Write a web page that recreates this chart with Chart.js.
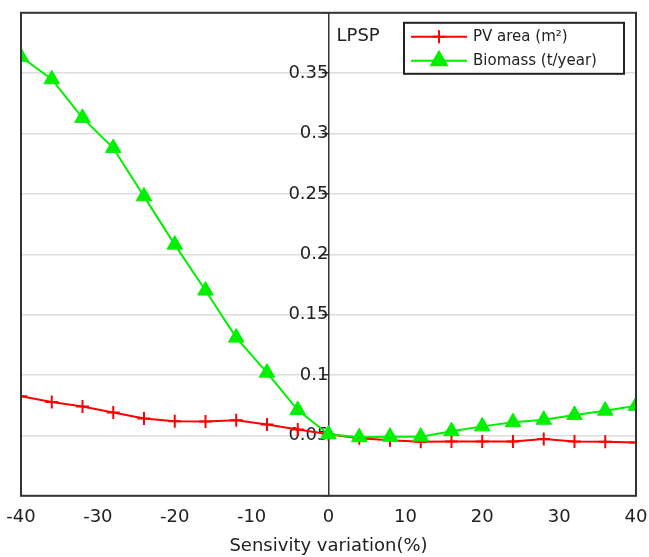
<!DOCTYPE html>
<html>
<head>
<meta charset="utf-8">
<script src="https://cdn.jsdelivr.net/npm/chart.js@4/dist/chart.umd.min.js"></script>
<style>
  html, body { margin: 0; padding: 0; background: #fff; }
  #wrap { width: 649px; height: 557px; }
</style>
</head>
<body>
<div id="wrap"><canvas id="chart" width="649" height="557"></canvas></div>
<script>
// sensitivity steps (%)
const variation = [-40, -36, -32, -28, -24, -20, -16, -12, -8, -4, 0, 4, 8, 12, 16, 20, 24, 28, 32, 36, 40];

// LPSP values
const pvArea = [0.0825, 0.0776, 0.074, 0.069, 0.064, 0.0617, 0.0615, 0.0625, 0.059, 0.055, 0.051,
    0.0477, 0.046, 0.0447, 0.045, 0.045, 0.045, 0.047, 0.045, 0.0447, 0.0442];
const biomass = [0.3635, 0.345, 0.313, 0.288, 0.248, 0.208, 0.170, 0.131, 0.102, 0.071, 0.051,
    0.0485, 0.049, 0.049, 0.0535, 0.0575, 0.061, 0.063, 0.067, 0.0705, 0.0745];

const xTicks = [-40, -30, -20, -10, 0, 10, 20, 30, 40];
const seriesLabels = ['PV area (m\u00b2)', 'Biomass (t/year)'];

const FONT = '"DejaVu Sans", Verdana, sans-serif';
const TEXT = '#222';

// frame around plot + LPSP label + boxed legend
const decorPlugin = {
    id: 'decor',
    afterDraw(chart) {
        const ctx = chart.ctx;
        const a = chart.chartArea;
        ctx.save();
        ctx.strokeStyle = '#333';
        ctx.lineWidth = 2;
        ctx.strokeRect(a.left, a.top, a.right - a.left, a.bottom - a.top);

        ctx.fillStyle = TEXT;
        ctx.font = '18px ' + FONT;
        ctx.textBaseline = 'middle';
        ctx.textAlign = 'left';
        const x0 = chart.scales.x.getPixelForValue(0);
        ctx.fillText('LPSP', x0 + 8, a.top + 24);

        // legend box
        const bw = 220, bh = 51;
        const bx = a.right - 12 - bw, by = a.top + 10;
        ctx.fillStyle = '#fff';
        ctx.fillRect(bx, by, bw, bh);
        ctx.strokeStyle = '#222';
        ctx.lineWidth = 2;
        ctx.strokeRect(bx, by, bw, bh);
        ctx.font = '15px ' + FONT;
        chart.data.datasets.forEach((ds, i) => {
            const cy = by + 14 + i * 24;
            ctx.strokeStyle = ds.borderColor;
            ctx.fillStyle = ds.borderColor;
            ctx.lineWidth = 2;
            ctx.beginPath();
            ctx.moveTo(bx + 7, cy);
            ctx.lineTo(bx + 63, cy);
            ctx.stroke();
            Chart.helpers.drawPoint(ctx, {
                pointStyle: ds.pointStyle,
                radius: ds.pointRadius,
                borderWidth: ds.pointBorderWidth || 2,
                rotation: 0
            }, bx + 35, cy);
            ctx.fillStyle = TEXT;
            ctx.fillText(ds.label, bx + 69, cy);
        });
        ctx.restore();
    }
};

new Chart(document.getElementById('chart'), {
    type: 'line',
    data: {
        labels: variation,
        datasets: [
            {
                label: seriesLabels[0],
                data: variation.map((v, i) => ({ x: v, y: pvArea[i] })),
                borderColor: '#ff0000',
                backgroundColor: '#ff0000',
                borderWidth: 2,
                pointStyle: 'cross',
                pointRadius: 6.5,
                pointBorderWidth: 2,
                pointBorderColor: '#ff0000',
                tension: 0,
                order: 1
            },
            {
                label: seriesLabels[1],
                data: variation.map((v, i) => ({ x: v, y: biomass[i] })),
                borderColor: '#00f000',
                backgroundColor: '#00f000',
                borderWidth: 2,
                pointStyle: 'triangle',
                pointRadius: 9,
                pointBorderWidth: 1,
                pointBorderColor: '#00f000',
                pointBackgroundColor: '#00f000',
                tension: 0,
                order: 0
            }
        ]
    },
    options: {
        responsive: false,
        animation: false,
        layout: { padding: { left: 0, right: 0, top: 7, bottom: 0 } },
        plugins: {
            legend: { display: false },
            tooltip: { enabled: false }
        },
        scales: {
            x: {
                type: 'linear',
                min: -40,
                max: 40,
                afterBuildTicks: (s) => { s.ticks = xTicks.map(v => ({ value: v })); },
                afterFit: (s) => { s.paddingLeft = 21; s.paddingRight = 13; },
                grid: { display: false, drawTicks: false },
                border: { display: false },
                ticks: { color: TEXT, font: { family: FONT, size: 18 }, padding: 11 },
                title: {
                    display: true,
                    text: 'Sensivity variation(%)',
                    color: TEXT,
                    font: { family: FONT, size: 18 },
                    padding: { top: -4, bottom: 0 }
                }
            },
            y: {
                type: 'linear',
                position: { x: 0 },
                min: 0,
                max: 0.4,
                ticks: {
                    stepSize: 0.05,
                    color: TEXT,
                    font: { family: FONT, size: 18 },
                    padding: 2,
                    callback: (v) => (v <= 0.0001 || v >= 0.3999) ? '' : String(Math.round(v * 100) / 100)
                },
                grid: {
                    color: '#dddddd',
                    lineWidth: 1.5,
                    tickColor: '#333',
                    tickLength: 6
                },
                border: { display: true, color: '#333', width: 1.5 }
            }
        }
    },
    plugins: [decorPlugin]
});
</script>
</body>
</html>
